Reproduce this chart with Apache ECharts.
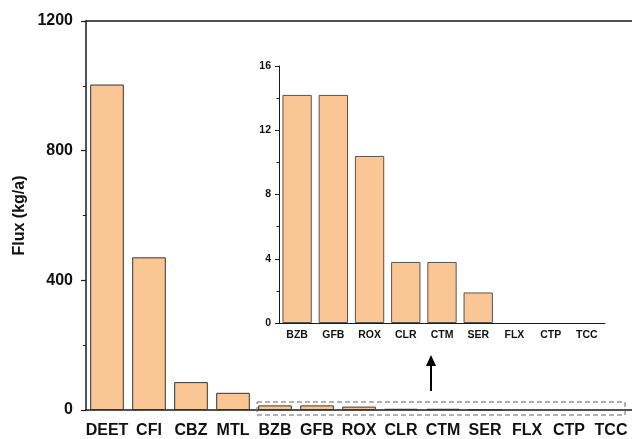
<!DOCTYPE html>
<html>
<head>
<meta charset="utf-8">
<script src="https://cdn.jsdelivr.net/npm/echarts@6/dist/echarts.min.js"></script>
<style>html,body{margin:0;padding:0;background:#fff;}#c{width:632px;height:439px;}</style>
</head>
<body>
<div id="c"></div>
<script>
const mainCategories = ['DEET','CFI','CBZ','MTL','BZB','GFB','ROX','CLR','CTM','SER','FLX','CTP','TCC'];
const mainValues = [1004, 471, 86, 53, 14.2, 14.2, 10.4, 3.8, 3.8, 1.9, 0, 0, 0];
const mainTicks = [0, 400, 800, 1200];
const insetCategories = ['BZB','GFB','ROX','CLR','CTM','SER','FLX','CTP','TCC'];
const insetValues = [14.2, 14.2, 10.4, 3.8, 3.8, 1.9, 0, 0, 0];
const insetTicks = [0, 4, 8, 12, 16];
const yName = 'Flux (kg/a)';

const FONT = '"Liberation Sans", Arial, sans-serif';
const AX = '#1a1a1a';
const FILL = '#FAC794';

function toItems(vals) {
  return vals.map(v => v === 0 ? {value: v, itemStyle: {borderWidth: 0}} : {value: v});
}

const chart = echarts.init(document.getElementById('c'), null, {renderer: 'canvas'});
chart.setOption({
  animation: false,
  backgroundColor: '#fff',
  grid: [
    {left: 86, top: 21, width: 550, bottom: 28.5, containLabel: false},
    {left: 279, top: 66, width: 326, height: 257, containLabel: false}
  ],
  xAxis: [
    {
      type: 'category', gridIndex: 0, data: mainCategories,
      axisLine: {lineStyle: {color: AX, width: 1.5}},
      axisTick: {alignWithLabel: true, length: 5, lineStyle: {color: AX, width: 1.2}},
      axisLabel: {fontFamily: FONT, fontWeight: 'bold', fontSize: 16, color: '#111', margin: 13, interval: 0},
      splitLine: {show: false}
    },
    {
      type: 'category', gridIndex: 1, data: insetCategories,
      axisLine: {lineStyle: {color: AX, width: 1}},
      axisTick: {alignWithLabel: true, length: 4, lineStyle: {color: AX, width: 1}},
      axisLabel: {fontFamily: FONT, fontWeight: 'bold', fontSize: 10.5, color: '#111', margin: 7, interval: 0},
      splitLine: {show: false}
    },
    {
      type: 'category', gridIndex: 0, position: 'top', data: mainCategories,
      axisLine: {show: true, lineStyle: {color: AX, width: 1.5}},
      axisTick: {show: false}, axisLabel: {show: false}, splitLine: {show: false}
    }
  ],
  yAxis: [
    {
      type: 'value', gridIndex: 0, min: mainTicks[0], max: mainTicks[mainTicks.length-1], interval: 400,
      name: yName, nameLocation: 'middle', nameGap: 58, nameMoveOverlap: false,
      nameTextStyle: {fontFamily: FONT, fontWeight: 'bold', fontSize: 16, color: '#111'},
      axisLine: {show: true, lineStyle: {color: AX, width: 1.5}},
      axisTick: {show: true, length: 5, lineStyle: {color: AX, width: 1.2}},
      minorTick: {show: true, splitNumber: 2, length: 3, lineStyle: {color: AX, width: 1}},
      axisLabel: {fontFamily: FONT, fontWeight: 'bold', fontSize: 16, color: '#111', margin: 13, formatter: v => String(v)},
      splitLine: {show: false}
    },
    {
      type: 'value', gridIndex: 1, min: insetTicks[0], max: insetTicks[insetTicks.length-1], interval: 4,
      axisLine: {show: true, lineStyle: {color: AX, width: 1}},
      axisTick: {show: true, length: 4, lineStyle: {color: AX, width: 1}},
      minorTick: {show: true, splitNumber: 2, length: 2.5, lineStyle: {color: AX, width: 1}},
      axisLabel: {fontFamily: FONT, fontWeight: 'bold', fontSize: 10.5, color: '#111', margin: 8, formatter: v => String(v)},
      splitLine: {show: false}
    }
  ],
  series: [
    {
      type: 'bar', xAxisIndex: 0, yAxisIndex: 0, data: toItems(mainValues), barCategoryGap: '20%',
      itemStyle: {color: FILL, borderColor: '#333', borderWidth: 1}
    },
    {
      type: 'bar', xAxisIndex: 1, yAxisIndex: 1, data: toItems(insetValues), barCategoryGap: '19%',
      itemStyle: {color: FILL, borderColor: '#555', borderWidth: 1}
    }
  ],
  graphic: [
    {type: 'rect', shape: {x: 257, y: 402, width: 368, height: 13}, style: {fill: 'none', stroke: '#666', lineWidth: 1, lineDash: [5, 3]}, z: 100},
    {type: 'line', shape: {x1: 431, y1: 391, x2: 431, y2: 364}, style: {stroke: '#000', lineWidth: 2}, z: 100},
    {type: 'polygon', shape: {points: [[426, 366], [436, 366], [431, 355]]}, style: {fill: '#000'}, z: 100}
  ]
});
</script>
</body>
</html>
